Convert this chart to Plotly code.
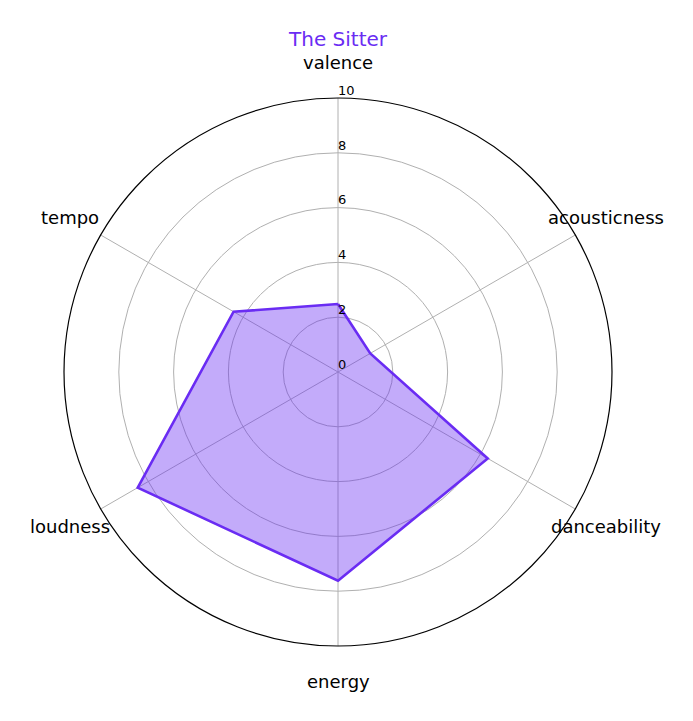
import math
import plotly.graph_objects as go

categories = ["valence", "acousticness", "danceability", "energy", "loudness", "tempo"]
values = [2.48, 1.36, 6.31, 7.62, 8.44, 4.40]
radial_ticks = [0, 2, 4, 6, 8, 10]
title_text = "The Sitter"

line_color = "#6a2cf3"
fill_color = "rgba(106,44,243,0.4)"

r_max = 10
label_radius = 11.3  # in data units, where the category labels are centred

fig = go.Figure()
fig.add_trace(go.Scatterpolar(
    r=values + [values[0]],
    theta=categories + [categories[0]],
    mode="lines",
    line=dict(color=line_color, width=2.6),
    fill="toself",
    fillcolor=fill_color,
    hoverinfo="skip",
))
# radial tick labels along the first spoke
fig.add_trace(go.Scatterpolar(
    r=radial_ticks,
    theta=[categories[0]] * len(radial_ticks),
    mode="text",
    text=[str(v) for v in radial_ticks],
    textposition="top right",
    textfont=dict(size=13, color="black", family="DejaVu Sans"),
    cliponaxis=False,
    hoverinfo="skip",
))

# category labels centred at label_radius (polar domain is the square plot area)
n = len(categories)
frac = 0.5 * label_radius / r_max
annotations = []
for i, cat in enumerate(categories):
    ang = math.radians(90 - i * 360 / n)
    annotations.append(dict(
        text=cat, xref="paper", yref="paper",
        x=0.5 + frac * math.cos(ang), y=0.5 + frac * math.sin(ang),
        xanchor="center", yanchor="middle", showarrow=False,
        font=dict(size=18, color="black", family="DejaVu Sans"),
    ))

fig.update_layout(
    width=685, height=713,
    paper_bgcolor="white",
    plot_bgcolor="white",
    showlegend=False,
    margin=dict(l=56, r=81, t=90, b=75),
    font=dict(family="DejaVu Sans", color="black"),
    annotations=annotations,
    title=dict(text=title_text, x=330 / 685, xanchor="center", y=1 - 31 / 713,
               yanchor="middle", yref="container",
               font=dict(size=20, color=line_color, family="DejaVu Sans")),
    polar=dict(
        bgcolor="white",
        domain=dict(x=[0, 1], y=[0, 1]),
        radialaxis=dict(
            range=[0, r_max],
            tickvals=radial_ticks,
            angle=90,
            showline=False,
            showticklabels=False,
            ticks="",
            gridcolor="#b0b0b0",
            gridwidth=1,
        ),
        angularaxis=dict(
            rotation=90,
            direction="clockwise",
            showline=True,
            linecolor="black",
            linewidth=1.2,
            gridcolor="#b0b0b0",
            gridwidth=1,
            ticks="",
            showticklabels=False,
        ),
    ),
)

fig.write_html("out.html")
